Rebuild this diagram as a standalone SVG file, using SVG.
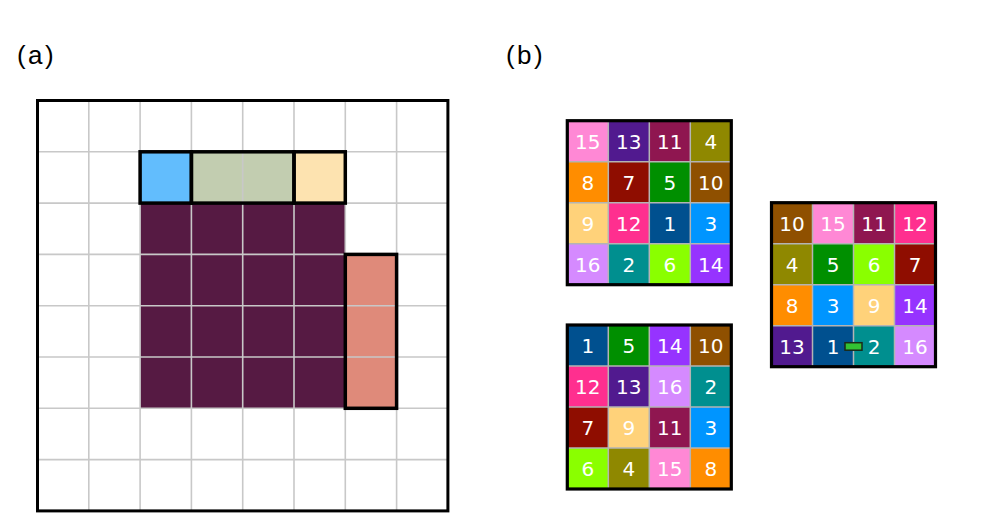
<svg xmlns="http://www.w3.org/2000/svg" width="995" height="529" viewBox="0 0 995 529">
<style>
.lbl{font-family:"Liberation Sans",Arial,sans-serif;font-size:26px;letter-spacing:2.4px;fill:#000}
.gl{stroke:#c8c8c8;stroke-width:1.6;fill:none}
.ol{fill:none;stroke:#000;stroke-width:3.5}
.sep{stroke:#b4b4b4;stroke-width:1.5;fill:none}
.brd{fill:none;stroke:#000;stroke-width:3.2}
.num{font-family:"DejaVu Sans","Open Sans",sans-serif;font-size:20px;fill:#fff;text-anchor:middle;dominant-baseline:central}
.c1{fill:#00508f}.c2{fill:#008f8f}.c3{fill:#0095ff}.c4{fill:#8f8800}
.c5{fill:#008f00}.c6{fill:#8aff00}.c7{fill:#8f0d00}.c8{fill:#ff8d00}
.c9{fill:#ffd27a}.c10{fill:#8f5000}.c11{fill:#8f1650}.c12{fill:#ff2f8f}
.c13{fill:#511a8f}.c14{fill:#9633ff}.c15{fill:#ff88d5}.c16{fill:#d58aff}
</style>
<rect width="995" height="529" fill="#fff"/>
<text class="lbl" x="17" y="64">(a)</text>
<text class="lbl" x="506" y="64">(b)</text>

<g id="panel-a">
<rect x="140.1" y="203.1" width="205.2" height="205.2" fill="#561a43"/>
<rect x="140.1" y="151.8" width="51.3" height="51.3" fill="#62bdfd"/>
<rect x="191.4" y="151.8" width="102.6" height="51.3" fill="#c2cdb0"/>
<rect x="294" y="151.8" width="51.3" height="51.3" fill="#fde3b0"/>
<rect x="345.3" y="254.4" width="51.3" height="153.9" fill="#df8a7a"/>
<g class="gl">
<path d="M88.8 100.5V510.9M140.1 100.5V510.9M191.4 100.5V510.9M242.7 100.5V510.9M294 100.5V510.9M345.3 100.5V510.9M396.6 100.5V510.9"/>
<path d="M37.5 151.8H447.9M37.5 203.1H447.9M37.5 254.4H447.9M37.5 305.7H447.9M37.5 357H447.9M37.5 408.3H447.9M37.5 459.6H447.9"/>
</g>
<rect class="ol" x="140.1" y="151.8" width="51.3" height="51.3"/>
<rect class="ol" x="191.4" y="151.8" width="102.6" height="51.3"/>
<rect class="ol" x="294" y="151.8" width="51.3" height="51.3"/>
<rect class="ol" x="345.3" y="254.4" width="51.3" height="153.9"/>
<rect x="37.5" y="100.5" width="410.4" height="410.4" fill="none" stroke="#000" stroke-width="3"/>
</g>

<g id="grid-1" transform="translate(567.3,120.7)">
<rect class="c15" x="0" y="0" width="41" height="41"/><rect class="c13" x="41" y="0" width="41" height="41"/><rect class="c11" x="82" y="0" width="41" height="41"/><rect class="c4" x="123" y="0" width="41" height="41"/>
<rect class="c8" x="0" y="41" width="41" height="41"/><rect class="c7" x="41" y="41" width="41" height="41"/><rect class="c5" x="82" y="41" width="41" height="41"/><rect class="c10" x="123" y="41" width="41" height="41"/>
<rect class="c9" x="0" y="82" width="41" height="41"/><rect class="c12" x="41" y="82" width="41" height="41"/><rect class="c1" x="82" y="82" width="41" height="41"/><rect class="c3" x="123" y="82" width="41" height="41"/>
<rect class="c16" x="0" y="123" width="41" height="41"/><rect class="c2" x="41" y="123" width="41" height="41"/><rect class="c6" x="82" y="123" width="41" height="41"/><rect class="c14" x="123" y="123" width="41" height="41"/>
<path class="sep" d="M41 0V164M82 0V164M123 0V164M0 41H164M0 82H164M0 123H164"/>
<rect class="brd" x="0" y="0" width="164" height="164"/>
<text class="num" x="20.5" y="21">15</text><text class="num" x="61.5" y="21">13</text><text class="num" x="102.5" y="21">11</text><text class="num" x="143.5" y="21">4</text>
<text class="num" x="20.5" y="62">8</text><text class="num" x="61.5" y="62">7</text><text class="num" x="102.5" y="62">5</text><text class="num" x="143.5" y="62">10</text>
<text class="num" x="20.5" y="103">9</text><text class="num" x="61.5" y="103">12</text><text class="num" x="102.5" y="103">1</text><text class="num" x="143.5" y="103">3</text>
<text class="num" x="20.5" y="144">16</text><text class="num" x="61.5" y="144">2</text><text class="num" x="102.5" y="144">6</text><text class="num" x="143.5" y="144">14</text>
</g>

<g id="grid-2" transform="translate(567.3,325)">
<rect class="c1" x="0" y="0" width="41" height="41"/><rect class="c5" x="41" y="0" width="41" height="41"/><rect class="c14" x="82" y="0" width="41" height="41"/><rect class="c10" x="123" y="0" width="41" height="41"/>
<rect class="c12" x="0" y="41" width="41" height="41"/><rect class="c13" x="41" y="41" width="41" height="41"/><rect class="c16" x="82" y="41" width="41" height="41"/><rect class="c2" x="123" y="41" width="41" height="41"/>
<rect class="c7" x="0" y="82" width="41" height="41"/><rect class="c9" x="41" y="82" width="41" height="41"/><rect class="c11" x="82" y="82" width="41" height="41"/><rect class="c3" x="123" y="82" width="41" height="41"/>
<rect class="c6" x="0" y="123" width="41" height="41"/><rect class="c4" x="41" y="123" width="41" height="41"/><rect class="c15" x="82" y="123" width="41" height="41"/><rect class="c8" x="123" y="123" width="41" height="41"/>
<path class="sep" d="M41 0V164M82 0V164M123 0V164M0 41H164M0 82H164M0 123H164"/>
<rect class="brd" x="0" y="0" width="164" height="164"/>
<text class="num" x="20.5" y="21">1</text><text class="num" x="61.5" y="21">5</text><text class="num" x="102.5" y="21">14</text><text class="num" x="143.5" y="21">10</text>
<text class="num" x="20.5" y="62">12</text><text class="num" x="61.5" y="62">13</text><text class="num" x="102.5" y="62">16</text><text class="num" x="143.5" y="62">2</text>
<text class="num" x="20.5" y="103">7</text><text class="num" x="61.5" y="103">9</text><text class="num" x="102.5" y="103">11</text><text class="num" x="143.5" y="103">3</text>
<text class="num" x="20.5" y="144">6</text><text class="num" x="61.5" y="144">4</text><text class="num" x="102.5" y="144">15</text><text class="num" x="143.5" y="144">8</text>
</g>

<g id="grid-3" transform="translate(771.5,202.7)">
<rect class="c10" x="0" y="0" width="41" height="41"/><rect class="c15" x="41" y="0" width="41" height="41"/><rect class="c11" x="82" y="0" width="41" height="41"/><rect class="c12" x="123" y="0" width="41" height="41"/>
<rect class="c4" x="0" y="41" width="41" height="41"/><rect class="c5" x="41" y="41" width="41" height="41"/><rect class="c6" x="82" y="41" width="41" height="41"/><rect class="c7" x="123" y="41" width="41" height="41"/>
<rect class="c8" x="0" y="82" width="41" height="41"/><rect class="c3" x="41" y="82" width="41" height="41"/><rect class="c9" x="82" y="82" width="41" height="41"/><rect class="c14" x="123" y="82" width="41" height="41"/>
<rect class="c13" x="0" y="123" width="41" height="41"/><rect class="c1" x="41" y="123" width="41" height="41"/><rect class="c2" x="82" y="123" width="41" height="41"/><rect class="c16" x="123" y="123" width="41" height="41"/>
<path class="sep" d="M41 0V164M82 0V164M123 0V164M0 41H164M0 82H164M0 123H164"/>
<rect class="brd" x="0" y="0" width="164" height="164"/>
<text class="num" x="20.5" y="21">10</text><text class="num" x="61.5" y="21">15</text><text class="num" x="102.5" y="21">11</text><text class="num" x="143.5" y="21">12</text>
<text class="num" x="20.5" y="62">4</text><text class="num" x="61.5" y="62">5</text><text class="num" x="102.5" y="62">6</text><text class="num" x="143.5" y="62">7</text>
<text class="num" x="20.5" y="103">8</text><text class="num" x="61.5" y="103">3</text><text class="num" x="102.5" y="103">9</text><text class="num" x="143.5" y="103">14</text>
<text class="num" x="20.5" y="144">13</text><text class="num" x="61.5" y="144">1</text><text class="num" x="102.5" y="144">2</text><text class="num" x="143.5" y="144">16</text>
<rect x="73.5" y="140" width="17" height="7.5" fill="#33c233" stroke="#1a2a1a" stroke-width="1.5"/>
</g>
</svg>
